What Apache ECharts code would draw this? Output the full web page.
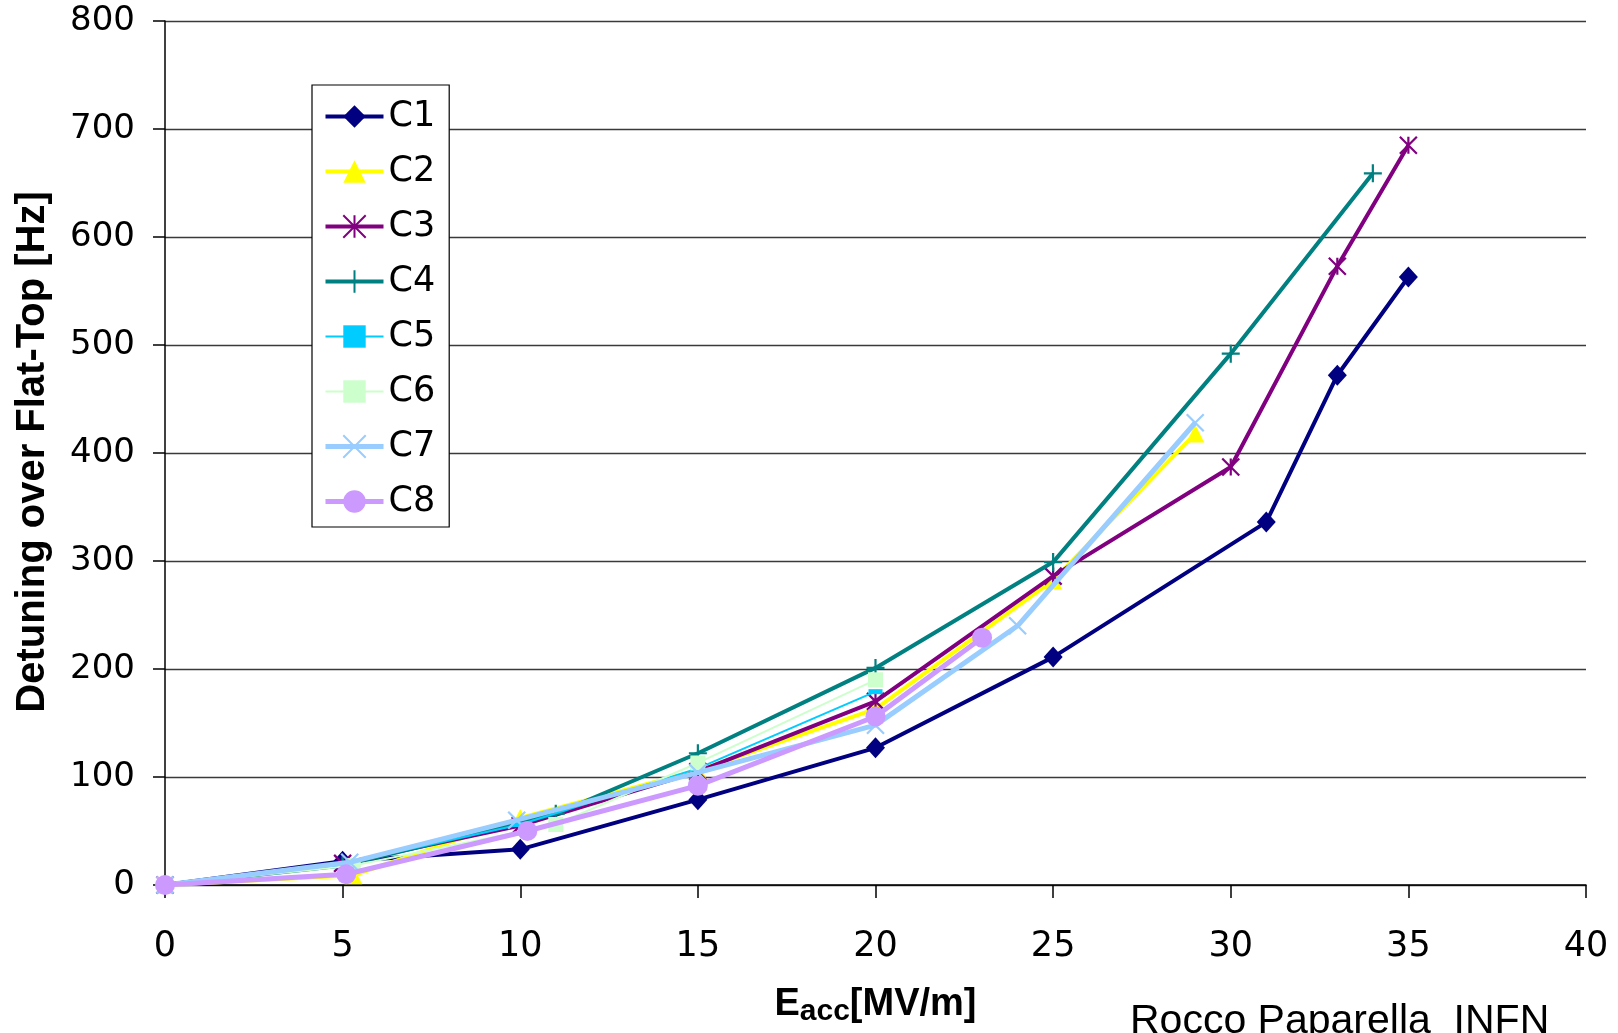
<!DOCTYPE html>
<html>
<head>
<meta charset="utf-8">
<title>Detuning over Flat-Top</title>
<script src="https://cdn.jsdelivr.net/npm/echarts@6/dist/echarts.min.js"></script>
<style>
  html, body { margin: 0; padding: 0; background: #ffffff; }
  #chart { width: 1618px; height: 1033px; }
</style>
</head>
<body>
<div id="chart"></div>
<script>
// Accelerating field E_acc [MV/m] and detuning over flat-top [Hz] for each cavity
const c1E = [0, 5, 10, 15, 20, 25, 31, 33, 35];
const c1D = [0, 22, 33, 79, 127, 211, 336, 472, 563];

const c2E = [0, 5.3, 10, 15, 20, 25, 29];
const c2D = [0, 9, 62, 106, 163, 282, 418];

const c3E = [0, 5, 10, 15, 20, 25, 30, 33, 35];
const c3D = [0, 20, 55, 105, 170, 286, 387, 573, 685];

const c4E = [0, 5, 11, 15, 20, 25, 30, 34];
const c4D = [0, 18, 66, 122, 201, 299, 492, 659];

const c5E = [0, 4.8, 10, 15, 20];
const c5D = [0, 18, 56, 108, 179];

const c6E = [0, 5.3, 11, 15, 20];
const c6D = [0, 18, 56, 113, 190];

const c7E = [0, 5.2, 9.9, 15, 20, 24, 29];
const c7D = [0, 21, 60, 104, 148, 240, 428];

const c8E = [0, 5.1, 10.2, 15, 20, 23];
const c8D = [0, 10, 50, 92, 156, 229];

const cavityNames = ['C1', 'C2', 'C3', 'C4', 'C5', 'C6', 'C7', 'C8'];
const xTicks = [0, 5, 10, 15, 20, 25, 30, 35, 40];
const yTicks = [0, 100, 200, 300, 400, 500, 600, 700, 800];

const FONT = '"Liberation Sans", Arial, sans-serif';
const WIDE_FONT = '"DejaVu Sans", Verdana, sans-serif';

// Stroke-only marker shapes
const PLUS = 'path://M0,5 L10,5 M5,0 L5,10';
const CROSS = 'path://M0,0 L10,10 M10,0 L0,10';
const STAR = 'path://M0,0 L10,10 M10,0 L0,10 M5,0 L5,10';

function pairs(xs, ys) {
  return xs.map((x, i) => [x, ys[i]]);
}

function lineSeries(name, xs, ys, color, width, symbol, size, stroked, z) {
  return {
    name: name,
    type: 'line',
    data: pairs(xs, ys),
    symbol: symbol,
    symbolSize: size,
    showAllSymbol: true,
    z: z,
    lineStyle: { color: color, width: width },
    itemStyle: stroked
      ? { color: color, borderColor: color, borderWidth: 2.2 }
      : { color: color, borderWidth: 0 },
    emphasis: { disabled: true }
  };
}

const series = [
  lineSeries(cavityNames[0], c1E, c1D, '#000080', 4, 'diamond', [19, 21], false, 2),
  lineSeries(cavityNames[1], c2E, c2D, '#FFFF00', 4, 'triangle', 18, false, 3),
  lineSeries(cavityNames[2], c3E, c3D, '#800080', 4, STAR, 17, true, 4),
  lineSeries(cavityNames[3], c4E, c4D, '#008080', 4, PLUS, 18, true, 5),
  lineSeries(cavityNames[4], c5E, c5D, '#00CCFF', 2, 'rect', [14, 5], false, 6),
  lineSeries(cavityNames[5], c6E, c6D, '#CCFFCC', 2, 'rect', 15, false, 7),
  lineSeries(cavityNames[6], c7E, c7D, '#99CCFF', 5, CROSS, 17, true, 8),
  lineSeries(cavityNames[7], c8E, c8D, '#CC99FF', 5, 'circle', 20, false, 9)
];

const chart = echarts.init(document.getElementById('chart'), null, { renderer: 'canvas' });

chart.setOption({
  animation: false,
  backgroundColor: '#ffffff',
  textStyle: { fontFamily: FONT },
  grid: { left: 165, right: 32, top: 21, bottom: 148, containLabel: false },
  xAxis: {
    type: 'value',
    min: xTicks[0],
    max: xTicks[xTicks.length - 1],
    interval: xTicks[1] - xTicks[0],
    axisLine: { onZero: false, lineStyle: { color: '#000000', width: 1.5 } },
    axisTick: { show: true, inside: false, length: 13, lineStyle: { color: '#000000', width: 1.5 } },
    axisLabel: { color: '#000000', fontSize: 35, fontFamily: WIDE_FONT, margin: 44 },
    splitLine: { show: false },
    name: '{e|E}{s|acc}{e|[MV/m]}',
    nameLocation: 'middle',
    nameGap: 98,
    nameTextStyle: {
      rich: {
        e: { fontSize: 38, fontWeight: 'bold', fontFamily: FONT, color: '#000000' },
        s: { fontSize: 30, fontWeight: 'bold', fontFamily: FONT, color: '#000000', padding: [14, 0, 0, 0] }
      }
    }
  },
  yAxis: {
    type: 'value',
    min: yTicks[0],
    max: yTicks[yTicks.length - 1],
    interval: yTicks[1] - yTicks[0],
    axisLine: { show: true, lineStyle: { color: '#000000', width: 1.5 } },
    axisTick: { show: true, inside: false, length: 12, lineStyle: { color: '#000000', width: 1.5 } },
    axisLabel: { color: '#000000', fontSize: 34, fontFamily: WIDE_FONT, margin: 30 },
    splitLine: { show: true, lineStyle: { color: '#3a3a3a', width: 1.3 } }
  },
  legend: {
    data: cavityNames,
    orient: 'vertical',
    left: 312,
    top: 85,
    itemWidth: 58,
    itemHeight: 28,
    itemGap: 20,
    padding: [14, 14, 8, 11],
    borderColor: '#000000',
    borderWidth: 1.2,
    backgroundColor: '#ffffff',
    selectedMode: false,
    lineStyle: { width: 'inherit' },
    textStyle: { color: '#000000', fontSize: 35, fontFamily: WIDE_FONT, lineHeight: 35 }
  },
  graphic: [
    {
      type: 'text',
      x: 33,
      y: 452,
      rotation: Math.PI / 2,
      style: {
        text: 'Detuning over Flat-Top [Hz]',
        font: 'bold 40px ' + FONT,
        fill: '#000000',
        align: 'center',
        verticalAlign: 'middle'
      }
    },
    {
      type: 'text',
      x: 1130,
      y: 1001,
      style: {
        text: 'Rocco Paparella  INFN',
        font: '41px ' + FONT,
        fill: '#000000',
        align: 'left',
        verticalAlign: 'top'
      }
    }
  ],
  series: series
});
</script>
</body>
</html>
